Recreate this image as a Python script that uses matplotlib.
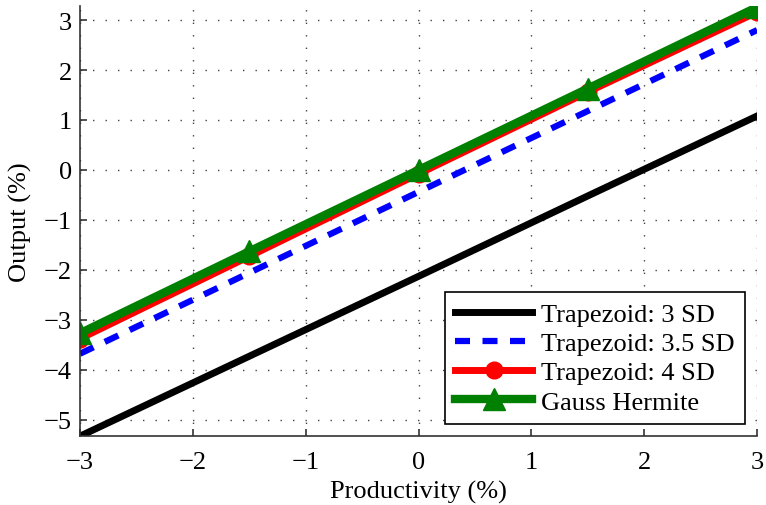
import numpy as np
import matplotlib.pyplot as plt

plt.rcParams['font.family'] = ['Liberation Serif', 'DejaVu Serif']

# Productivity shock grid and output response for each quadrature rule
productivity = [-3.0, -1.5, 0.0, 1.5, 3.0]
trap_3sd = [-5.33, -3.73, -2.13, -0.52, 1.08]
trap_35sd = [-3.68, -2.06, -0.44, 1.18, 2.80]
trap_4sd = [-3.38, -1.73, -0.08, 1.56, 3.16]
gauss_hermite = [-3.27, -1.63, 0.00, 1.63, 3.26]

x_ticks = [-3, -2, -1, 0, 1, 2, 3]
y_ticks = [-5, -4, -3, -2, -1, 0, 1, 2, 3]

fig = plt.figure(figsize=(7.66, 5.06), dpi=100)
ax = fig.add_axes([0.1044, 0.136, 0.884, 0.85])

ax.plot(productivity, trap_3sd, color='black', lw=5, label='Trapezoid: 3 SD')
ax.plot(productivity, trap_35sd, color='blue', lw=4.5, ls=(0, (2.4, 2.0)),
        label='Trapezoid: 3.5 SD')
ax.plot(productivity, trap_4sd, color='red', lw=5, marker='o', ms=12,
        label='Trapezoid: 4 SD')
ax.plot(productivity, gauss_hermite, color='green', lw=6, marker='^', ms=16,
        label='Gauss Hermite')

ax.set_xlim(-3, 3)
ax.set_ylim(-5.33, 3.28)
ax.set_xticks(x_ticks)
ax.set_yticks(y_ticks)
ax.set_xticklabels([str(v).replace('-', '\u2212') for v in x_ticks])
ax.set_yticklabels([str(v).replace('-', '\u2212') for v in y_ticks])

ax.tick_params(direction='in', length=5, width=1.2, labelsize=19, color='#333333')
ax.tick_params(axis='x', pad=11)
ax.tick_params(axis='y', pad=6)
ax.grid(True, ls=(0, (1, 8)), color='#444444', lw=1.0)

for side in ['top', 'right']:
    ax.spines[side].set_visible(False)
for side in ['left', 'bottom']:
    ax.spines[side].set_color('#333333')
    ax.spines[side].set_linewidth(1.2)

ax.set_xlabel('Productivity (%)', fontsize=19, labelpad=5)
ax.set_ylabel('Output (%)', fontsize=19, labelpad=8)

leg = ax.legend(loc='lower right', fontsize=19, frameon=True, fancybox=False,
                edgecolor='black', framealpha=1, handlelength=2.9,
                borderpad=0.4, labelspacing=0.22, handletextpad=0.34,
                borderaxespad=0, bbox_to_anchor=(0.982, 0.028))
leg.get_frame().set_linewidth(1.2)

fig.savefig('out.png', dpi=100)
